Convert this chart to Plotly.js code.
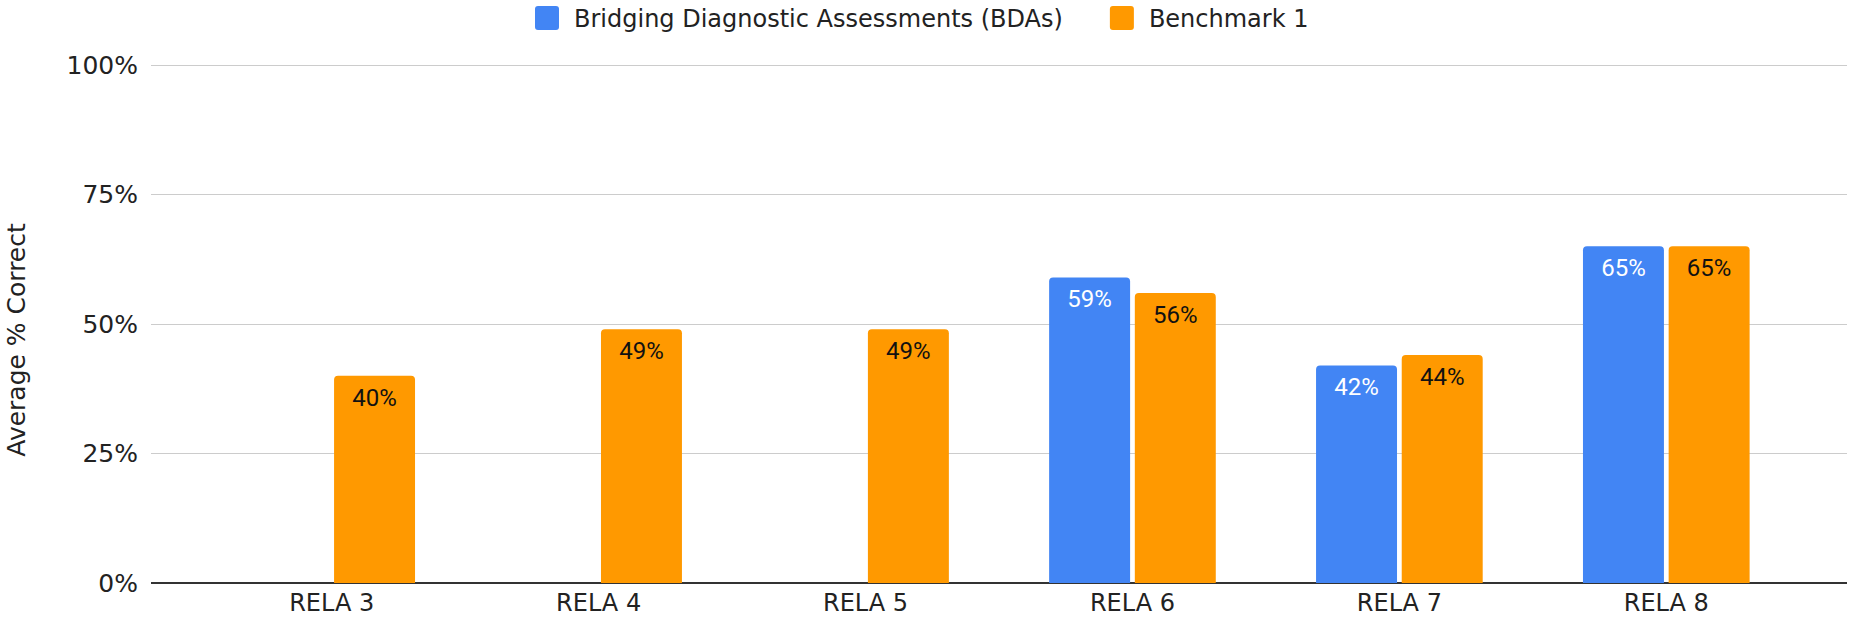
<!DOCTYPE html>
<html>
<head>
<meta charset="utf-8">
<script src="https://cdn.plot.ly/plotly-3.0.1.min.js"></script>
<style>html,body{margin:0;padding:0;background:#fff;}#chart{width:1849px;height:622px;}</style>
</head>
<body>
<div id="chart"></div>
<script>
const categories = ["RELA 3", "RELA 4", "RELA 5", "RELA 6", "RELA 7", "RELA 8"];
const bdaValues = [null, null, null, 59, 42, 65];
const benchmarkValues = [40, 49, 49, 56, 44, 65];
const seriesNames = ["Bridging Diagnostic Assessments (BDAs)", "Benchmark 1"];
const seriesColors = ["#4285F4", "#FF9900"];
const labelColors = ["#ffffff", "#111111"];
const yTickValues = [0, 25, 50, 75, 100];
const yTickLabels = ["0%", "25%", "50%", "75%", "100%"];
const yAxisTitle = "Average % Correct";

const baseFont = "DejaVu Sans, Verdana, sans-serif";
const axisFont = {family: baseFont, size: 24, color: "#222"};

const seriesValues = [bdaValues, benchmarkValues];
const traces = seriesValues.map((vals, i) => ({
  type: "bar", name: seriesNames[i], x: categories, y: vals,
  marker: {color: seriesColors[i], cornerradius: 4},
  texttemplate: "%{y}%", textposition: "inside", insidetextanchor: "end",
  textfont: {family: "Roboto, sans-serif", size: 24, color: labelColors[i]},
  constraintext: "none", hoverinfo: "skip"
}));

const layout = {
  width: 1849, height: 622,
  margin: {l: 151, r: 2, t: 64, b: 39},
  paper_bgcolor: "#fff", plot_bgcolor: "#fff",
  barmode: "group", bargap: 0.358, bargroupgap: 0.055,
  font: axisFont,
  showlegend: true,
  legend: {
    orientation: "h", xref: "container", yref: "container",
    x: 0.5, xanchor: "center", y: 1, yanchor: "top",
    font: {family: baseFont, size: 24, color: "#222"},
    itemwidth: 44, traceorder: "normal"
  },
  xaxis: {
    type: "category", range: [-0.677, 5.677],
    showgrid: false, zeroline: false, showline: false,
    ticks: "", ticklabelstandoff: 3, tickfont: axisFont, automargin: false
  },
  yaxis: {
    range: [0, 100.2], tickvals: yTickValues, ticktext: yTickLabels,
    showgrid: true, gridcolor: "#cccccc", gridwidth: 1,
    zeroline: true, zerolinecolor: "#333333", zerolinewidth: 1.5,
    ticks: "", ticklabelstandoff: 12,
    tickfont: {family: baseFont, size: 25, color: "#222"},
    automargin: false, fixedrange: true
  },
  annotations: [{
    text: yAxisTitle, textangle: -90, showarrow: false,
    xref: "paper", yref: "paper", x: -0.0795, y: 0.469,
    xanchor: "center", yanchor: "middle",
    font: {family: baseFont, size: 25, color: "#222"}
  }]
};

Plotly.newPlot("chart", traces, layout, {displayModeBar: false, staticPlot: true}).then(gd => {
  // let legend entries extend past the legend box without clipping
  gd.querySelectorAll(".legend [clip-path]").forEach(el => el.removeAttribute("clip-path"));
  // rounded square legend swatches like the reference
  gd.querySelectorAll(".legend .legendpoints path").forEach(p => {
    p.setAttribute("d", "M9,12H-9A3,3 0 0 1 -12,9V-9A3,3 0 0 1 -9,-12H9A3,3 0 0 1 12,-9V9A3,3 0 0 1 9,12Z");
  });
  // adjust spacing of the two legend entries and lift them slightly
  const items = gd.querySelectorAll(".legend .traces");
  const legendShifts = [-21, 6];
  items.forEach((g, i) => {
    const t = g.getAttribute("transform") || "";
    const dx = legendShifts[i] || 0;
    g.setAttribute("transform", "translate(" + dx + ",-4) " + t);
  });
  // data labels sit a little lower inside the bars
  gd.querySelectorAll(".bartext").forEach(t => {
    const tr = t.getAttribute("transform") || "";
    t.setAttribute("transform", "translate(0,4) " + tr);
  });
});
</script>
</body>
</html>
